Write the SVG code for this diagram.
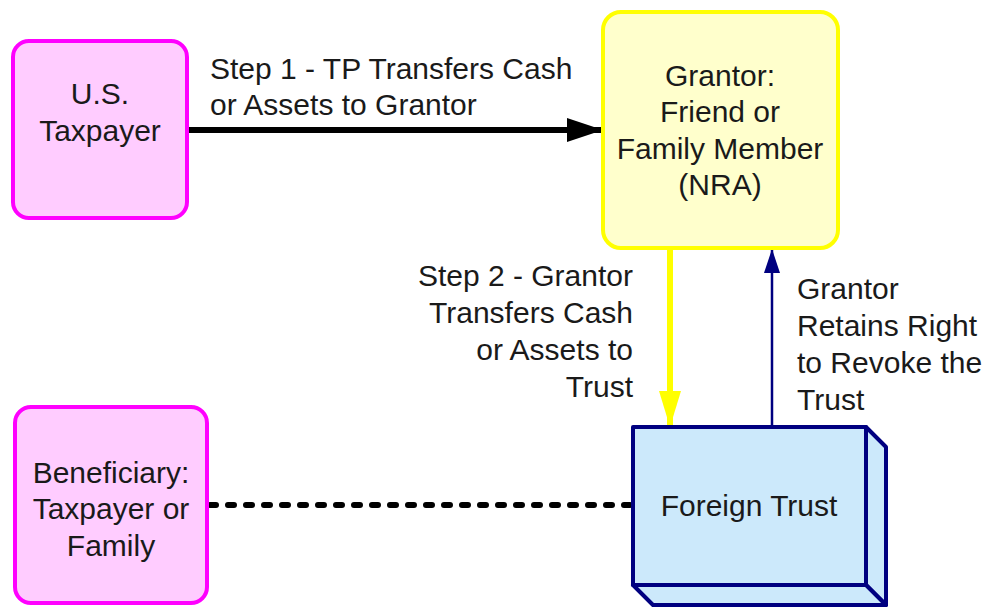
<svg xmlns="http://www.w3.org/2000/svg" width="984" height="609" viewBox="0 0 984 609">
<defs>
<style>
text{font-family:"Liberation Sans",Arial,sans-serif;font-size:30px;fill:#1a1a1a}
.pink{fill:#ffccff;stroke:#ff00ff;stroke-width:4}
.yel{fill:#ffffcc;stroke:#ffff00;stroke-width:4}
.trust{fill:#cce9fb;stroke:#000080;stroke-width:4;stroke-linejoin:round}
.c{text-anchor:middle}
.r{text-anchor:end}
</style>
<marker id="ahBlack" markerUnits="userSpaceOnUse" markerWidth="40" markerHeight="30" refX="38" refY="15" orient="auto" viewBox="0 0 40 30"><path d="M2,3 L38,15 L2,27 Z" fill="#000"/></marker>
<marker id="ahYellow" markerUnits="userSpaceOnUse" markerWidth="40" markerHeight="30" refX="38" refY="15" orient="auto" viewBox="0 0 40 30"><path d="M2,4 L38,15 L2,26 Z" fill="#ffff00"/></marker>
<marker id="ahNavy" markerUnits="userSpaceOnUse" markerWidth="30" markerHeight="20" refX="28" refY="10" orient="auto" viewBox="0 0 30 20"><path d="M4,2 L28,10 L4,18 Z" fill="#000080"/></marker>
</defs>
<rect width="984" height="609" fill="#fff"/>
<g id="connectors">
<line x1="187" y1="130" x2="603" y2="130" stroke="#000" stroke-width="6" marker-end="url(#ahBlack)"/>
<line x1="670" y1="248" x2="670" y2="427" stroke="#ffff00" stroke-width="6" marker-end="url(#ahYellow)"/>
<line x1="772" y1="427" x2="772" y2="249" stroke="#000080" stroke-width="2.5" marker-end="url(#ahNavy)"/>
<line x1="210" y1="505" x2="633" y2="505" stroke="#000" stroke-width="6" stroke-linecap="round" stroke-dasharray="6 12"/>
<text x="210" y="79">Step 1 - TP Transfers Cash</text>
<text x="210" y="115">or Assets to Grantor</text>
<text class="r" x="633" y="286">Step 2 - Grantor</text>
<text class="r" x="633" y="323">Transfers Cash</text>
<text class="r" x="633" y="360">or Assets to</text>
<text class="r" x="633" y="397">Trust</text>
<text x="797" y="299">Grantor</text>
<text x="797" y="336">Retains Right</text>
<text x="797" y="373">to Revoke the</text>
<text x="797" y="410">Trust</text>
</g>
<g id="taxpayer">
<rect class="pink" x="13" y="41" width="174" height="177" rx="16"/>
<text class="c" x="100" y="104">U.S.</text>
<text class="c" x="100" y="141">Taxpayer</text>
</g>
<g id="grantor">
<rect class="yel" x="603" y="12" width="235" height="236" rx="18"/>
<text class="c" x="720" y="86">Grantor:</text>
<text class="c" x="720" y="122">Friend or</text>
<text class="c" x="720" y="159">Family Member</text>
<text class="c" x="720" y="195">(NRA)</text>
</g>
<g id="beneficiary">
<rect class="pink" x="15" y="407" width="192" height="196" rx="16"/>
<text class="c" x="111" y="483">Beneficiary:</text>
<text class="c" x="111" y="519">Taxpayer or</text>
<text class="c" x="111" y="556">Family</text>
</g>
<g id="foreign-trust">
<path class="trust" d="M866,427 L886,447 L886,605 L866,585 Z"/>
<path class="trust" d="M633,585 L866,585 L886,605 L653,605 Z"/>
<rect class="trust" x="633" y="427" width="233" height="158"/>
<text class="c" x="749" y="516">Foreign Trust</text>
</g>
</svg>
